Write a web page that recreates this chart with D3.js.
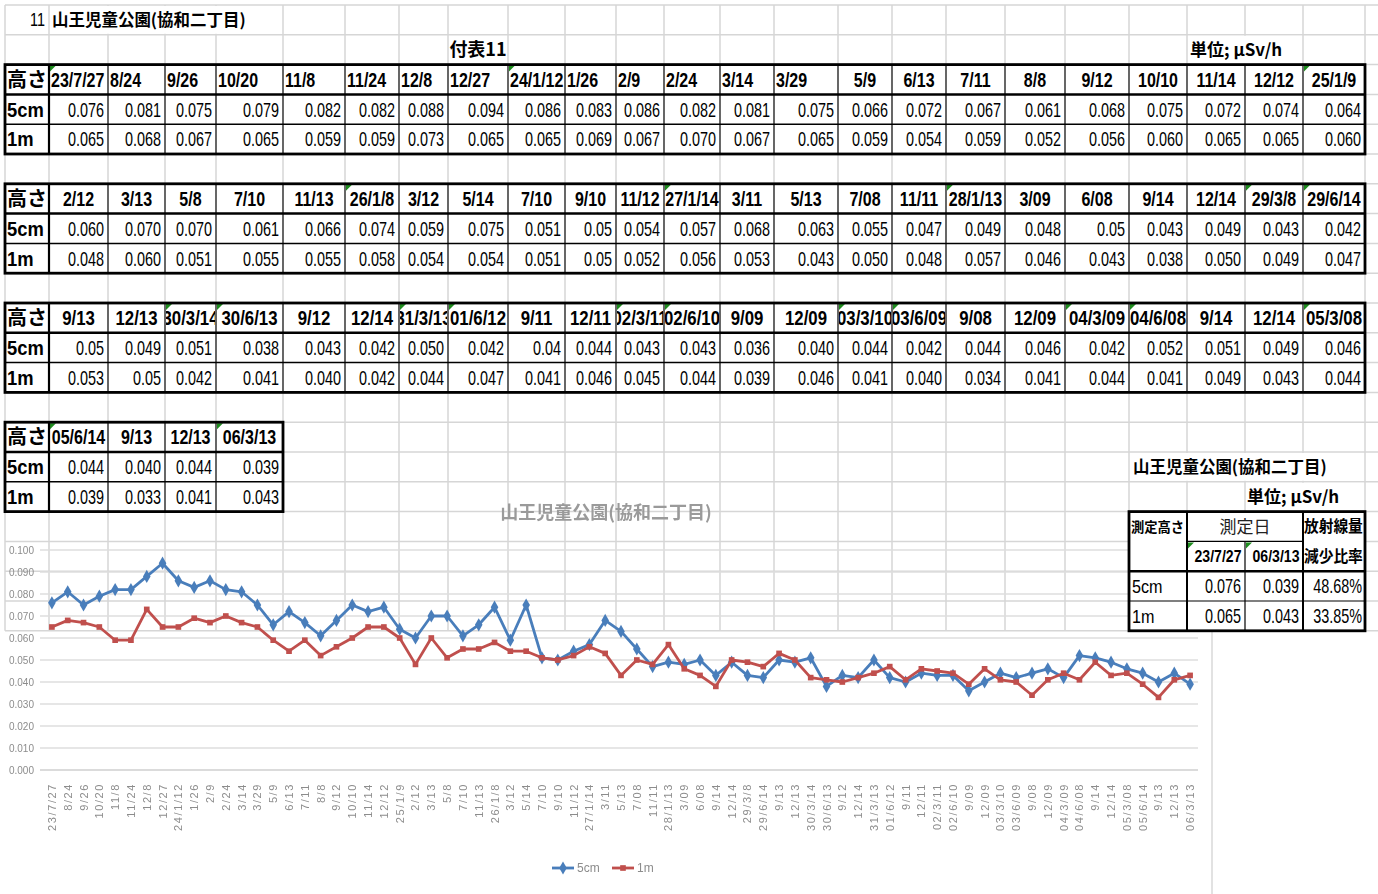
<!DOCTYPE html>
<meta charset="utf-8">
<head>
<style>
  body { margin: 0; background: #fff; }
  svg { display: block; }
</style>
</head>
<body>
<div id="sheet"></div>
<script src="https://d3js.org/d3.v7.min.js"></script>
<script>
// measurement dates, as written in the sheet
const dates = [
  "23/7/27","8/24","9/26","10/20","11/8","11/24","12/8","12/27","24/1/12","1/26","2/9","2/24","3/14","3/29","5/9","6/13","7/11","8/8","9/12","10/10","11/14","12/12","25/1/9",
  "2/12","3/13","5/8","7/10","11/13","26/1/8","3/12","5/14","7/10","9/10","11/12","27/1/14","3/11","5/13","7/08","11/11","28/1/13","3/09","6/08","9/14","12/14","29/3/8","29/6/14",
  "9/13","12/13","30/3/14","30/6/13","9/12","12/14","31/3/13","01/6/12","9/11","12/11","02/3/11","02/6/10","9/09","12/09","03/3/10","03/6/09","9/08","12/09","04/3/09","04/6/08","9/14","12/14","05/3/08",
  "05/6/14","9/13","12/13","06/3/13"
];
// 5cm height (μSv/h), as typed in the cells
const v5cm = [
  "0.076","0.081","0.075","0.079","0.082","0.082","0.088","0.094","0.086","0.083","0.086","0.082","0.081","0.075","0.066","0.072","0.067","0.061","0.068","0.075","0.072","0.074","0.064",
  "0.060","0.070","0.070","0.061","0.066","0.074","0.059","0.075","0.051","0.05","0.054","0.057","0.068","0.063","0.055","0.047","0.049","0.048","0.05","0.043","0.049","0.043","0.042",
  "0.05","0.049","0.051","0.038","0.043","0.042","0.050","0.042","0.04","0.044","0.043","0.043","0.036","0.040","0.044","0.042","0.044","0.046","0.042","0.052","0.051","0.049","0.046",
  "0.044","0.040","0.044","0.039"
];
// 1m height
const v1m = [
  "0.065","0.068","0.067","0.065","0.059","0.059","0.073","0.065","0.065","0.069","0.067","0.070","0.067","0.065","0.059","0.054","0.059","0.052","0.056","0.060","0.065","0.065","0.060",
  "0.048","0.060","0.051","0.055","0.055","0.058","0.054","0.054","0.051","0.05","0.052","0.056","0.053","0.043","0.050","0.048","0.057","0.046","0.043","0.038","0.050","0.049","0.047",
  "0.053","0.05","0.042","0.041","0.040","0.042","0.044","0.047","0.041","0.046","0.045","0.044","0.039","0.046","0.041","0.040","0.034","0.041","0.044","0.041","0.049","0.043","0.044",
  "0.039","0.033","0.041","0.043"
];
const rowNames = ["高さ", "5cm", "1m"];
const seriesNames = ["5cm", "1m"];
const yTicks = [0, 0.01, 0.02, 0.03, 0.04, 0.05, 0.06, 0.07, 0.08, 0.09, 0.1];
const title = "山王児童公園(協和二丁目)";

const W = 1378, H = 894;
const NUM = "'Liberation Sans', Arial, sans-serif";
const CJK = "'Noto Sans CJK JP', sans-serif";

const svg = d3.select("#sheet").append("svg")
  .attr("width", W).attr("height", H);

const defs = svg.append("defs");
defs.append("filter").attr("id", "soft")
  .append("feGaussianBlur").attr("stdDeviation", 0.5);

// spreadsheet grid
const colX = [5,49,108,165,216,283,345,399,448,508,565,616,664,720,774,838,892,946,1005,1065,1129,1187,1245,1303,1365];
const rowH = 29.8;
const rowY = i => 5 + i * rowH;
const per = 23;
const blockRows = [2, 6, 10, 14];

const grid = svg.append("g");
grid.selectAll("line.h").data(d3.range(22)).join("line").attr("class", "h")
  .attr("x1", 5).attr("x2", W)
  .attr("y1", d => rowY(d)).attr("y2", d => rowY(d))
  .attr("stroke", "#d6d6d6").attr("stroke-width", 1.5);
grid.selectAll("line.v").data(colX).join("line").attr("class", "v")
  .attr("x1", d => d).attr("x2", d => d)
  .attr("y1", 5).attr("y2", rowY(21))
  .attr("stroke", "#d6d6d6").attr("stroke-width", 1.5);

// text overflowing neighbouring cells hides their gridlines
[[0, 50, 282], [1, 1188, 1302], [15, 1130, 1364], [16, 1246, 1364]].forEach(([r, a, b]) => {
  grid.append("rect").attr("x", a).attr("y", rowY(r) + 1)
    .attr("width", b - a).attr("height", rowH - 2).attr("fill", "#fff");
});

// small text helper (cells use a tall condensed face)
function txt(g, x, y, s, o = {}) {
  const t = g.append("g")
    .attr("transform", `translate(${x},${y}) scale(${o.sx || 1},1)`)
    .append("text")
    .attr("text-anchor", o.anchor || "start")
    .attr("dy", "0.36em")
    .style("font-family", o.font || NUM)
    .style("font-size", (o.size || 18) + "px")
    .style("font-weight", o.bold ? "bold" : "normal")
    .style("fill", o.fill || "#000")
    .text(s);
  return t;
}

function tri(g, x, y) {
  g.append("path").attr("d", `M${x + 1},${y + 1}L${x + 7},${y + 1}L${x + 1},${y + 7}Z`)
    .attr("fill", "#1e8c1e");
}

const mid = r => rowY(r) + rowH / 2;
const head = svg.append("g");
txt(head, 45, mid(0), "11", { anchor: "end", size: 18, sx: 0.8 });
txt(head, 52, mid(0), title, { font: CJK, size: 17, bold: true, sx: 0.97 });
txt(head, 478, mid(1), "付表11", { font: CJK, size: 18, bold: true, anchor: "middle" });
txt(head, 1190, mid(1), "単位; μSv/h", { font: CJK, size: 17, bold: true });

// data tables, 23 dates per block
blockRows.forEach((r0, b) => {
  const idx = d3.range(b * per, Math.min((b + 1) * per, dates.length));
  const n = idx.length;
  const x0 = colX[0], x1 = colX[n + 1];
  const y0 = rowY(r0), y1 = rowY(r0 + 3);
  const g = svg.append("g");
  g.append("rect").attr("x", x0).attr("y", y0)
    .attr("width", x1 - x0).attr("height", y1 - y0).attr("fill", "#fff");

  rowNames.forEach((nm, r) => {
    txt(g, 7, mid(r0 + r), nm, { font: r === 0 ? CJK : NUM, size: 20, bold: true, sx: r === 0 ? 1 : 0.92 });
  });

  const hs = b === 2 ? 21 : 20;
  idx.forEach((k, j) => {
    const cx0 = colX[j + 1], cx1 = colX[j + 2];
    defs.append("clipPath").attr("id", "c" + k)
      .append("rect").attr("x", cx0 + 1).attr("y", y0)
      .attr("width", cx1 - cx0 - 2).attr("height", rowH);
    const cg = g.append("g").attr("clip-path", `url(#c${k})`);
    const left = b === 0 && j < 14;
    txt(cg, left ? cx0 + 2 : (cx0 + cx1) / 2, mid(r0), dates[k],
      { anchor: left ? "start" : "middle", size: hs, bold: true, sx: 0.8 });
    if (dates[k].split("/").length === 3) tri(g, cx0, y0);
    txt(g, cx1 - 4, mid(r0 + 1), v5cm[k], { anchor: "end", size: 20, sx: 0.72 });
    txt(g, cx1 - 4, mid(r0 + 2), v1m[k], { anchor: "end", size: 20, sx: 0.72 });
  });

  // borders
  g.selectAll("line.iv").data(d3.range(2, n + 1)).join("line").attr("class", "iv")
    .attr("x1", j => colX[j]).attr("x2", j => colX[j])
    .attr("y1", y0).attr("y2", y1)
    .attr("stroke", "#000").attr("stroke-width", 1.2);
  g.append("line").attr("x1", colX[1]).attr("x2", colX[1]).attr("y1", y0).attr("y2", y1)
    .attr("stroke", "#000").attr("stroke-width", 2.2);
  g.append("line").attr("x1", x0).attr("x2", x1).attr("y1", rowY(r0 + 1)).attr("y2", rowY(r0 + 1))
    .attr("stroke", "#000").attr("stroke-width", 2.5);
  g.append("line").attr("x1", x0).attr("x2", x1).attr("y1", rowY(r0 + 2)).attr("y2", rowY(r0 + 2))
    .attr("stroke", "#000").attr("stroke-width", 1.5);
  g.append("rect").attr("x", x0).attr("y", y0)
    .attr("width", x1 - x0).attr("height", y1 - y0)
    .attr("fill", "none").attr("stroke", "#000").attr("stroke-width", 2.8);
});

// chart
svg.append("line").attr("x1", 1212).attr("x2", 1212).attr("y1", rowY(21)).attr("y2", H)
  .attr("stroke", "#e2e2e2").attr("stroke-width", 2);

const chart = svg.append("g").attr("filter", "url(#soft)");
const x = d3.scaleBand().domain(d3.range(dates.length)).range([44, 1198]);
const cx = i => x(i) + x.bandwidth() / 2;
const y = d3.scaleLinear().domain([0, 0.1]).range([770, 550]);

chart.append("text").attr("x", 606).attr("y", 519).attr("text-anchor", "middle")
  .style("font-family", CJK).style("font-size", "18px").style("font-weight", "bold")
  .style("fill", "#9a9a9a").text(title);

chart.selectAll("line.grid").data(yTicks).join("line").attr("class", "grid")
  .attr("x1", 40).attr("x2", 1198)
  .attr("y1", d => y(d)).attr("y2", d => y(d))
  .attr("stroke", d => d === 0 ? "#cfcfcf" : "#dedede").attr("stroke-width", 1.5);
chart.selectAll("text.yl").data(yTicks).join("text").attr("class", "yl")
  .attr("x", 34).attr("y", d => y(d) + 3.5).attr("text-anchor", "end")
  .style("font-family", NUM).style("font-size", "10px").style("fill", "#8c8c8c")
  .text(d3.format(".3f"));

chart.selectAll("text.xl").data(dates).join("text").attr("class", "xl")
  .attr("transform", (d, i) => `translate(${cx(i) + 4},783) rotate(-90)`)
  .attr("text-anchor", "end")
  .style("font-family", NUM).style("font-size", "11px").style("letter-spacing", "1.6px")
  .style("fill", "#8c8c8c").text(d => d);

const colors = ["#4a7ebb", "#c0504d"];
const symbols = [d3.symbol(d3.symbolDiamond, 50), d3.symbol(d3.symbolSquare, 32)];
const line = d3.line().x((d, i) => cx(i)).y(d => y(+d));
[v5cm, v1m].forEach((s, k) => {
  chart.append("path").datum(s).attr("d", line)
    .attr("fill", "none").attr("stroke", colors[k]).attr("stroke-width", 2.8)
    .attr("stroke-linejoin", "round");
  chart.selectAll(`path.m${k}`).data(s).join("path").attr("class", `m${k}`)
    .attr("transform", (d, i) => `translate(${cx(i)},${y(+d)})`)
    .attr("d", symbols[k]).attr("fill", colors[k]);
});

// legend
seriesNames.forEach((nm, k) => {
  const lx = 552 + k * 60;
  chart.append("line").attr("x1", lx).attr("x2", lx + 22).attr("y1", 868).attr("y2", 868)
    .attr("stroke", colors[k]).attr("stroke-width", 2.8);
  chart.append("path").attr("transform", `translate(${lx + 11},868)`)
    .attr("d", symbols[k]).attr("fill", colors[k]);
  chart.append("text").attr("x", lx + 25).attr("y", 872)
    .style("font-family", NUM).style("font-size", "12px").style("fill", "#8c8c8c").text(nm);
});

// summary table (first vs last measurement), sits over the chart
const sx = [1129, 1187, 1245, 1303, 1365];
const last = dates.length - 1;
const ratio = s => d3.format(".2%")((+s[0] - +s[last]) / +s[0]);
const sg = svg.append("g");
txt(sg, 1133, mid(15), title, { font: CJK, size: 17, bold: true, sx: 0.97 });
txt(sg, 1247, mid(16), "単位; μSv/h", { font: CJK, size: 17, bold: true });
sg.append("rect").attr("x", sx[0]).attr("y", rowY(17))
  .attr("width", sx[4] - sx[0]).attr("height", rowY(21) - rowY(17)).attr("fill", "#fff");
txt(sg, sx[0] + 2, mid(17), "測定高さ", { font: CJK, size: 14, bold: true, sx: 0.95 });
txt(sg, sx[2], mid(17), "測定日", { font: CJK, size: 17, anchor: "middle", fill: "#222" });
txt(sg, sx[3] + 1, mid(17), "放射線量", { font: CJK, size: 16, bold: true, sx: 0.92 });
txt(sg, (sx[1] + sx[2]) / 2 + 2, mid(18), dates[0], { size: 16, bold: true, anchor: "middle", sx: 0.88 });
txt(sg, (sx[2] + sx[3]) / 2 + 2, mid(18), dates[last], { size: 16, bold: true, anchor: "middle", sx: 0.88 });
tri(sg, sx[1], rowY(18));
tri(sg, sx[2], rowY(18));
txt(sg, sx[3] + 1, mid(18), "減少比率", { font: CJK, size: 16, bold: true, sx: 0.92 });
[[v5cm, 19, "5cm"], [v1m, 20, "1m"]].forEach(([s, r, nm]) => {
  txt(sg, sx[0] + 3, mid(r), nm, { size: 19, sx: 0.85 });
  txt(sg, sx[2] - 4, mid(r), s[0], { anchor: "end", size: 20, sx: 0.72 });
  txt(sg, sx[3] - 4, mid(r), s[last], { anchor: "end", size: 20, sx: 0.72 });
  txt(sg, sx[4] - 3, mid(r), ratio(s), { anchor: "end", size: 20, sx: 0.72 });
});
const bl = (xa, ya, xb, yb, w) => sg.append("line")
  .attr("x1", xa).attr("y1", ya).attr("x2", xb).attr("y2", yb)
  .attr("stroke", "#000").attr("stroke-width", w);
bl(sx[1], rowY(17), sx[1], rowY(21), 2);
bl(sx[3], rowY(17), sx[3], rowY(21), 2);
bl(sx[2], rowY(18), sx[2], rowY(21), 1.2);
bl(sx[1], rowY(18), sx[3], rowY(18), 1.2);
bl(sx[0], rowY(19), sx[4], rowY(19), 2.5);
bl(sx[0], rowY(20), sx[4], rowY(20), 1.2);
sg.append("rect").attr("x", sx[0]).attr("y", rowY(17))
  .attr("width", sx[4] - sx[0]).attr("height", rowY(21) - rowY(17))
  .attr("fill", "none").attr("stroke", "#000").attr("stroke-width", 2.8);
</script>
</body>
